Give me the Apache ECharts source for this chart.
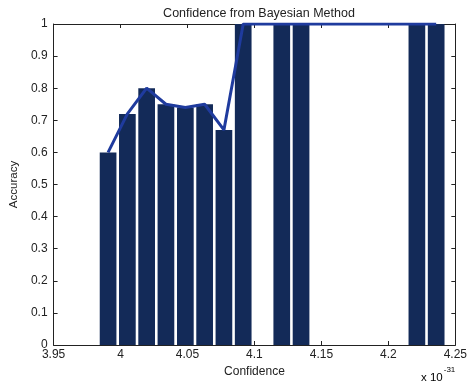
<!DOCTYPE html>
<html><head><meta charset="utf-8">
<script src="https://cdn.jsdelivr.net/npm/echarts@6/dist/echarts.min.js"></script>
<style>html,body{margin:0;padding:0;background:#fff}#c{width:470px;height:386px}</style>
</head><body><div id="c"></div>
<script>
// Histogram bins (confidence, units of 1e-31) and accuracy per bin
const binCenters = [3.9907, 4.0051, 4.0195, 4.0339, 4.0484, 4.0628, 4.0772, 4.0916, 4.1204, 4.1348, 4.2213, 4.2357];
const accuracy   = [0.60, 0.72, 0.80, 0.75, 0.74, 0.75, 0.67, 1.00, 1.00, 1.00, 1.00, 1.00];
const binWidth = 0.01441;
const xMin = 3.95, xMax = 4.25, xStep = 0.05;
const yMin = 0, yMax = 1, yStep = 0.1;
const titleText = 'Confidence from Bayesian Method';
const xName = 'Confidence';
const yName = 'Accuracy';

const FONT = '"Liberation Sans", Arial, sans-serif';
const chart = echarts.init(document.getElementById('c'), null, {renderer: 'canvas'});
const pts = binCenters.map((x, i) => [x, accuracy[i]]);

const axisCommon = {
  axisLine: {show: true, onZero: false, lineStyle: {color: '#222', width: 1}},
  axisTick: {show: true, inside: true, length: 4, lineStyle: {color: '#222'}},
  splitLine: {show: false}
};

chart.setOption({
  animation: false,
  backgroundColor: '#fff',
  title: {
    text: titleText, left: 254, top: 2, textAlign: 'center',
    textStyle: {fontFamily: FONT, fontSize: 12.5, fontWeight: 'normal', color: '#222'}
  },
  grid: {left: 50, right: 11, top: 24, bottom: 41, containLabel: false},
  xAxis: [
    Object.assign({}, axisCommon, {
      type: 'value', min: xMin, max: xMax, interval: xStep, position: 'bottom',
      name: xName, nameLocation: 'middle', nameGap: 21,
      nameTextStyle: {fontFamily: FONT, fontSize: 12, color: '#222'},
      axisLabel: {fontFamily: FONT, fontSize: 12, color: '#222', margin: 4,
        formatter: v => String(+v.toFixed(2))}
    }),
    Object.assign({}, axisCommon, {
      type: 'value', min: xMin, max: xMax, interval: xStep, position: 'top',
      axisLabel: {show: false}
    })
  ],
  yAxis: [
    Object.assign({}, axisCommon, {
      type: 'value', min: yMin, max: yMax, interval: yStep, position: 'left',
      name: yName, nameLocation: 'middle', nameGap: 29, nameRotate: 90,
      nameTextStyle: {fontFamily: FONT, fontSize: 11.5, color: '#222'},
      axisLabel: {fontFamily: FONT, fontSize: 12, color: '#222', margin: 6,
        formatter: v => String(+v.toFixed(1))}
    }),
    Object.assign({}, axisCommon, {
      type: 'value', min: yMin, max: yMax, interval: yStep, position: 'right',
      axisLabel: {show: false}
    })
  ],
  graphic: [{
    type: 'text', left: 421, top: 366,
    style: {
      text: '{a|x 10}{s|-31}',
      rich: {
        a: {fontFamily: FONT, fontSize: 11.5, color: '#222', verticalAlign: 'bottom', padding: [6, 0, 0, 0]},
        s: {fontFamily: FONT, fontSize: 8, color: '#222', verticalAlign: 'top', padding: [0, 0, 6, 1]}
      }
    }
  }],
  series: [
    {
      type: 'custom', xAxisIndex: 0, yAxisIndex: 0, data: pts, z: 2,
      renderItem: function (params, api) {
        const x = api.value(0), y = api.value(1);
        const p0 = api.coord([x - binWidth / 2, y]);
        const p1 = api.coord([x + binWidth / 2, 0]);
        return {
          type: 'rect',
          shape: {x: p0[0] + 1.3, y: p0[1], width: p1[0] - p0[0] - 2.6, height: p1[1] - p0[1]},
          style: {fill: '#132a58'}
        };
      }
    },
    {
      type: 'line', xAxisIndex: 0, yAxisIndex: 0, data: pts, z: 3,
      symbol: 'none', lineStyle: {color: '#1f3b9e', width: 3}
    }
  ]
});
</script>
</body></html>
